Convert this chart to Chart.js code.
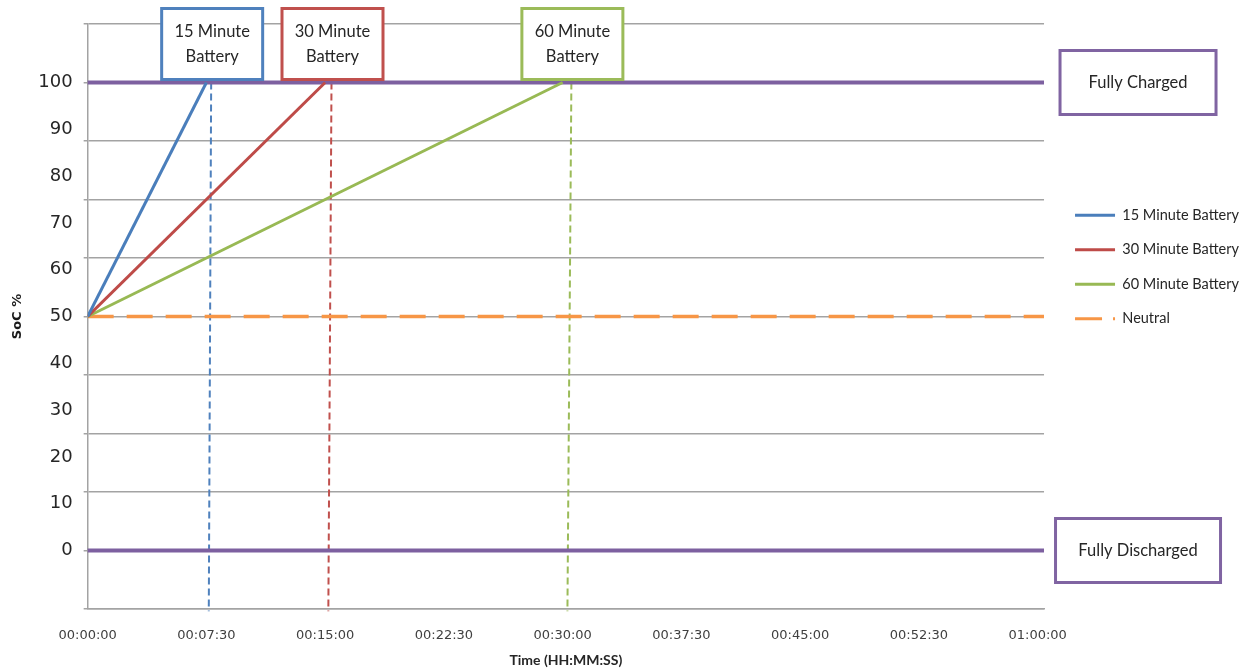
<!DOCTYPE html>
<html>
<head>
<meta charset="utf-8">
<script src="https://cdn.jsdelivr.net/npm/chart.js@4/dist/chart.umd.min.js"></script>
<style>
  html, body { margin: 0; padding: 0; background: #ffffff; }
  #wrap { width: 1248px; height: 672px; position: relative; }
</style>
</head>
<body>
<div id="wrap"><canvas id="soc"></canvas></div>
<script>
// State of charge (%) against elapsed time (minutes)
const seriesNames = ['15 Minute Battery', '30 Minute Battery', '60 Minute Battery', 'Neutral'];
const chargeTimes = [[0, 7.5], [0, 15], [0, 30]];
const chargeSoc = [[50, 100], [50, 100], [50, 100]];
const neutralTimes = [0, 60.4];
const neutralSoc = [50, 50];

const limitLevels = [100, 0];
const limitLabels = ['Fully Charged', 'Fully Discharged'];
const limitTimes = [0, 60.4];

// full-charge markers (top end / bottom end)
const markerTopTimes = [7.8, 15.4, 30.55];
const markerBottomTimes = [7.65, 15.2, 30.3];
const markerSoc = [100, -13];

const xTickMinutes = [0, 7.5, 15, 22.5, 30, 37.5, 45, 52.5, 60];
const xTickLabels = ['00:00:00', '00:07:30', '00:15:00', '00:22:30', '00:30:00', '00:37:30', '00:45:00', '00:52:30', '01:00:00'];
const yTickValues = [0, 10, 20, 30, 40, 50, 60, 70, 80, 90, 100];
const yTickLabels = ['0', '10', '20', '30', '40', '50', '60', '70', '80', '90', '100'];

const lineColors = ['#4A7EBB', '#BE4B48', '#98B954', '#F79646'];
const frameColors = ['#4F81BD', '#C0504D', '#9BBB59'];
const limitLineColor = '#7D60A0';
const limitFrameColor = '#8064A2';
const gridColor = '#A3A3A3';

const pts = (xs, ys) => xs.map((x, i) => ({ x: x, y: ys[i] }));

const datasets = [];
chargeTimes.forEach((t, i) => {
  datasets.push({
    label: seriesNames[i],
    data: pts(t, chargeSoc[i]),
    borderColor: lineColors[i],
    backgroundColor: lineColors[i],
    borderWidth: 3,
    pointRadius: 0,
    tension: 0
  });
});
datasets.push({
  label: seriesNames[3],
  data: pts(neutralTimes, neutralSoc),
  borderColor: lineColors[3],
  backgroundColor: lineColors[3],
  borderWidth: 3.5,
  borderDash: [26, 13],
  pointRadius: 0
});
limitLevels.forEach((lvl, i) => {
  datasets.push({
    label: limitLabels[i],
    data: pts(limitTimes, [lvl, lvl]),
    borderColor: limitLineColor,
    borderWidth: 4,
    pointRadius: 0,
    clip: { left: 5, right: 0, top: 4, bottom: 4 }
  });
});
markerTopTimes.forEach((t, i) => {
  datasets.push({
    label: seriesNames[i] + ' full',
    data: pts([t, markerBottomTimes[i]], markerSoc),
    borderColor: frameColors[i],
    borderWidth: 2,
    borderDash: [7, 4],
    pointRadius: 0,
    clip: false
  });
});

// framed text boxes: battery callouts above the 100 % line and limit labels on the right
const calloutPlugin = {
  id: 'callouts',
  afterDatasetsDraw(chart) {
    const { ctx, chartArea, scales } = chart;
    const x = scales.x, y = scales.y;
    const frame = (l, t, w, h, color, lines, font, lineGap) => {
      ctx.fillStyle = '#ffffff';
      ctx.fillRect(l, t, w, h);
      ctx.strokeStyle = color;
      ctx.lineWidth = 3;
      ctx.setLineDash([]);
      ctx.strokeRect(l, t, w, h);
      ctx.fillStyle = '#262626';
      ctx.font = font;
      ctx.textAlign = 'center';
      ctx.textBaseline = 'middle';
      const cy = t + h / 2 - (lines.length - 1) * lineGap / 2;
      lines.forEach((s, k) => ctx.fillText(s, l + w / 2, cy + k * lineGap));
    };
    ctx.save();
    markerTopTimes.forEach((t, i) => {
      const name = seriesNames[i];
      const cut = name.lastIndexOf(' ');
      const cx = x.getPixelForValue(t) + 1;
      const bottom = y.getPixelForValue(100) - 3;
      frame(cx - 50.5, bottom - 71, 101, 71, frameColors[i],
        [name.slice(0, cut), name.slice(cut + 1)], '16.5px Lato', 25);
    });
    const boxW = [156, 165];
    limitLevels.forEach((lvl, i) => {
      const cy = y.getPixelForValue(lvl);
      const cx = chartArea.right + 94;
      frame(cx - boxW[i] / 2, cy - 32, boxW[i], 64, limitFrameColor, [limitLabels[i]], '16.5px Lato', 0);
    });
    ctx.restore();
  }
};

// moves the legend block down beside the plot
const legendShift = {
  id: 'legendShift',
  afterLayout(chart, args, opts) {
    const lg = chart.legend;
    if (!lg) return;
    lg.left += opts.dx; lg.right += opts.dx;
    lg.top += opts.dy; lg.bottom += opts.dy;
  }
};

new Chart(document.getElementById('soc'), {
  type: 'line',
  data: { datasets: datasets },
  plugins: [calloutPlugin, legendShift],
  options: {
    responsive: true,
    maintainAspectRatio: false,
    animation: false,
    devicePixelRatio: 1,
    layout: { padding: { left: 9, right: 10, top: 24, bottom: 0 } },
    scales: {
      x: {
        type: 'linear',
        min: 0,
        max: 60.4,
        afterBuildTicks: (s) => { s.ticks = xTickMinutes.map(v => ({ value: v })); },
        ticks: {
          callback: (v, i) => xTickLabels[i],
          font: { family: 'DejaVu Sans', size: 13 },
          color: '#404040',
          padding: 5,
          maxRotation: 0,
          autoSkip: false
        },
        grid: { display: false, drawTicks: true, tickLength: 14 },
        border: { display: true, color: gridColor, width: 1.5 },
        title: {
          display: true,
          text: 'Time (HH:MM:SS)',
          font: { family: 'Lato', size: 14, weight: 'bold' },
          color: '#262626',
          padding: { top: 3.6, bottom: 3 }
        }
      },
      y: {
        type: 'linear',
        position: 'left',
        weight: 0,
        min: -12.5,
        max: 112.5,
        ticks: { display: false, stepSize: 12.5 },
        grid: { color: gridColor, lineWidth: 1.5, tickLength: 4, drawTicks: true },
        border: { display: true, color: gridColor, width: 1.5 }
      },
      yl: {
        type: 'linear',
        position: 'left',
        weight: 1,
        min: -12.5,
        max: 112.5,
        afterBuildTicks: (s) => { s.ticks = yTickValues.map(v => ({ value: v })); },
        ticks: {
          callback: (v, i) => yTickLabels[i],
          font: { family: 'DejaVu Sans', size: 18 },
          color: '#262626',
          padding: 3
        },
        grid: { display: false, drawTicks: true, tickLength: 8 },
        border: { display: false },
        title: {
          display: true,
          text: 'SoC %',
          font: { family: 'DejaVu Sans', size: 13, weight: 'bold' },
          color: '#1a1a1a',
          padding: { top: 1.2, bottom: 9.5 }
        }
      }
    },
    plugins: {
      tooltip: { enabled: false },
      legendShift: { dx: 11, dy: 164 },
      legend: {
        position: 'right',
        align: 'start',
        labels: {
          usePointStyle: true,
          pointStyleWidth: 40,
          padding: 20,
          color: '#262626',
          font: { family: 'Lato', size: 14.5 },
          filter: (item) => item.datasetIndex < 4,
          generateLabels: (chart) => {
            const base = Chart.defaults.plugins.legend.labels.generateLabels(chart);
            return base.map((it) => {
              const c = lineColors[it.datasetIndex] || '#000';
              it.pointStyle = 'line';
              it.rotation = 0;
              it.strokeStyle = c;
              it.fillStyle = c;
              it.lineWidth = 3;
              it.lineCap = 'butt';
              it.lineDash = it.datasetIndex === 3 ? [27, 11, 2] : [];
              it.lineDashOffset = 0;
              return it;
            });
          }
        }
      }
    }
  }
});
</script>
</body>
</html>
